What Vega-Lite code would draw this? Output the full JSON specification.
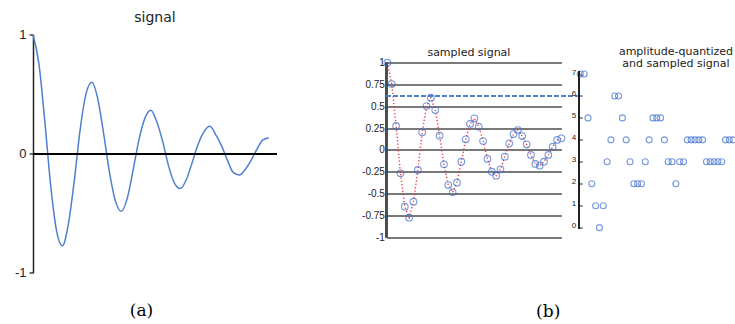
{
  "$schema": "https://vega.github.io/schema/vega-lite/v6.json",
  "padding": {"left": 14, "top": 10.5, "right": 0, "bottom": 0},
  "background": "white",
  "config": {"view": {"stroke": null}, "font": "DejaVu Sans"},
  "data": {
    "values": [
      {"n":0,"v":1.0,"q":7},{"n":1,"v":0.756,"q":7},{"n":2,"v":0.275,"q":5},{"n":3,"v":-0.267,"q":2},
      {"n":4,"v":-0.649,"q":1},{"n":5,"v":-0.775,"q":0},{"n":6,"v":-0.592,"q":1},{"n":7,"v":-0.229,"q":3},
      {"n":8,"v":0.202,"q":4},{"n":9,"v":0.504,"q":6},{"n":10,"v":0.599,"q":6},{"n":11,"v":0.458,"q":5},
      {"n":12,"v":0.164,"q":4},{"n":13,"v":-0.164,"q":3},{"n":14,"v":-0.401,"q":2},{"n":15,"v":-0.485,"q":2},
      {"n":16,"v":-0.374,"q":2},{"n":17,"v":-0.134,"q":3},{"n":18,"v":0.122,"q":4},{"n":19,"v":0.298,"q":5},
      {"n":20,"v":0.363,"q":5},{"n":21,"v":0.267,"q":5},{"n":22,"v":0.103,"q":4},{"n":23,"v":-0.103,"q":3},
      {"n":24,"v":-0.248,"q":3},{"n":25,"v":-0.294,"q":2},{"n":26,"v":-0.221,"q":3},{"n":27,"v":-0.076,"q":3},
      {"n":28,"v":0.076,"q":4},{"n":29,"v":0.183,"q":4},{"n":30,"v":0.229,"q":4},{"n":31,"v":0.160,"q":4},
      {"n":32,"v":0.065,"q":4},{"n":33,"v":-0.057,"q":3},{"n":34,"v":-0.160,"q":3},{"n":35,"v":-0.179,"q":3},
      {"n":36,"v":-0.134,"q":3},{"n":37,"v":-0.057,"q":3},{"n":38,"v":0.038,"q":4},{"n":39,"v":0.115,"q":4},
      {"n":40,"v":0.134,"q":4}
    ]
  },
  "bounds": "flush",
  "spacing": 109.4,
  "hconcat": [
    {
      "width": 244,
      "height": 238.2,
      "title": {"text": "signal", "font": "DejaVu Sans", "fontSize": 14, "fontWeight": "normal", "color": "#222", "baseline": "alphabetic", "offset": -7, "dx": 0},
      "layer": [
        {
          "mark": {"type": "line", "color": "#4f80cf", "strokeWidth": 1.5, "interpolate": "monotone"},
          "encoding": {
            "x": {"field": "n", "type": "quantitative", "scale": {"domain": [0, 41.4], "nice": false, "zero": false},
                  "axis": {"domain": false, "ticks": false, "labels": false, "grid": false, "title": "(a)", "titleFont": "DejaVu Serif", "titleFontSize": 17, "titleFontWeight": "normal", "titleColor": "#000", "titleX": 108, "titleY": 38, "titleBaseline": "middle"}},
            "y": {"field": "v", "type": "quantitative", "scale": {"domain": [-1, 1], "nice": false, "zero": false},
                  "axis": {"values": [-1, 0, 1], "format": "~g", "labelOverlap": false, "title": null, "grid": false, "domainColor": "#222", "domainWidth": 1.5, "tickColor": "#222", "tickWidth": 1.3, "tickSize": 4, "labelPadding": 3, "labelFont": "Liberation Sans", "labelFontSize": 13, "labelColor": "#222", "labelExpr": "replace(datum.label, '−', '-')"}}
          }
        },
        {
          "mark": {"type": "rule", "color": "#000", "strokeWidth": 1.3},
          "encoding": {"y": {"datum": 0}}
        }
      ]
    },
    {
      "bounds": "flush",
      "spacing": 17.8,
      "hconcat": [
        {
          "width": 175,
          "height": 202.8,
          "title": {"text": "sampled signal", "font": "DejaVu Sans", "fontSize": 11, "fontWeight": "normal", "color": "#222", "baseline": "alphabetic", "offset": -32, "dx": -5},
          "layer": [
            {
              "mark": {"type": "line", "color": "#e8333c", "strokeWidth": 1.4, "strokeDash": [1.2, 2.2]},
              "encoding": {
                "x": {"field": "n", "type": "quantitative", "scale": {"domain": [-0.23, 40], "nice": false, "zero": false},
                      "axis": {"domain": false, "ticks": false, "labels": false, "grid": false, "title": "(b)", "titleFont": "DejaVu Serif", "titleFontSize": 17, "titleFontWeight": "normal", "titleColor": "#000", "titleX": 161.3, "titleY": 73.7, "titleBaseline": "middle"}},
                "y": {"field": "v", "type": "quantitative", "scale": {"domain": [-1, 1.323], "nice": false, "zero": false},
                      "axis": {"values": [-1, -0.75, -0.5, -0.25, 0, 0.25, 0.5, 0.75, 1], "format": "~g", "labelOverlap": false, "title": null, "grid": true, "gridColor": "#4d4d4d", "gridWidth": 1.5, "domain": false, "ticks": false, "labelPadding": 2, "labelFont": "Liberation Sans", "labelFontSize": 10, "labelColor": "#222", "labelExpr": "replace(datum.label, '−', '-')"}}
              }
            },
            {
              "mark": {"type": "rule", "color": "#4d4d4d", "strokeWidth": 1.3},
              "encoding": {"x": {"datum": -0.23}, "y": {"datum": -1, "axis": {"values": [-1, -0.75, -0.5, -0.25, 0, 0.25, 0.5, 0.75, 1], "format": "~g", "labelOverlap": false, "title": null, "grid": true, "gridColor": "#4d4d4d", "gridWidth": 1.5, "domain": false, "ticks": false, "labelPadding": 2, "labelFont": "Liberation Sans", "labelFontSize": 10, "labelColor": "#222", "labelExpr": "replace(datum.label, '−', '-')"}}, "y2": {"datum": 1}}
            },
            {
              "mark": {"type": "rule", "color": "#4f80cf", "strokeWidth": 1.2, "strokeDash": [4, 3]},
              "encoding": {"x": {"datum": -0.23}, "x2": {"datum": 43.75}, "y": {"datum": 0.62, "axis": {"values": [-1, -0.75, -0.5, -0.25, 0, 0.25, 0.5, 0.75, 1], "format": "~g", "labelOverlap": false, "title": null, "grid": true, "gridColor": "#4d4d4d", "gridWidth": 1.5, "domain": false, "ticks": false, "labelPadding": 2, "labelFont": "Liberation Sans", "labelFontSize": 10, "labelColor": "#222", "labelExpr": "replace(datum.label, '−', '-')"}}}
            },
            {
              "mark": {"type": "point", "shape": "circle", "filled": false, "color": "#3f6fd0", "size": 44, "strokeWidth": 1.1},
              "encoding": {
                "x": {"field": "n", "type": "quantitative"},
                "y": {"field": "v", "type": "quantitative", "axis": {"values": [-1, -0.75, -0.5, -0.25, 0, 0.25, 0.5, 0.75, 1], "format": "~g", "labelOverlap": false, "title": null, "grid": true, "gridColor": "#4d4d4d", "gridWidth": 1.5, "domain": false, "ticks": false, "labelPadding": 2, "labelFont": "Liberation Sans", "labelFontSize": 10, "labelColor": "#222", "labelExpr": "replace(datum.label, '−', '-')"}}
              }
            }
          ]
        },
        {
          "width": 155.5,
          "height": 193.8,
          "title": {"text": ["amplitude-quantized", "and sampled signal"], "font": "DejaVu Sans", "fontSize": 11, "fontWeight": "normal", "color": "#222", "baseline": "alphabetic", "offset": -43, "dx": 19, "lineHeight": 11.5},
          "layer": [
            {
              "mark": {"type": "point", "shape": "circle", "filled": false, "color": "#3f6fd0", "size": 36, "strokeWidth": 1.1},
              "encoding": {
                "x": {"field": "n", "type": "quantitative", "scale": {"domain": [-0.3, 40.4], "nice": false, "zero": false}, "axis": null},
                "y": {"field": "q", "type": "quantitative", "scale": {"domain": [-0.03, 8.8], "nice": false, "zero": false},
                      "axis": {"values": [0, 1, 2, 3, 4, 5, 6, 7], "labelOverlap": false, "title": null, "grid": false, "domain": false, "tickColor": "#222", "tickSize": -3, "labelPadding": 6.5, "labelFont": "Liberation Sans", "labelFontSize": 8, "labelColor": "#222", "labelBaseline": "alphabetic"}}
              }
            },
            {
              "mark": {"type": "rule", "color": "#222", "strokeWidth": 1.3},
              "encoding": {"x": {"datum": -0.3}, "y": {"datum": -0.03, "axis": {"values": [0, 1, 2, 3, 4, 5, 6, 7], "labelOverlap": false, "title": null, "grid": false, "domain": false, "tickColor": "#222", "tickSize": -3, "labelPadding": 6.5, "labelFont": "Liberation Sans", "labelFontSize": 8, "labelColor": "#222", "labelBaseline": "alphabetic"}}, "y2": {"datum": 7.1}}
            }
          ]
        }
      ]
    }
  ]
}
